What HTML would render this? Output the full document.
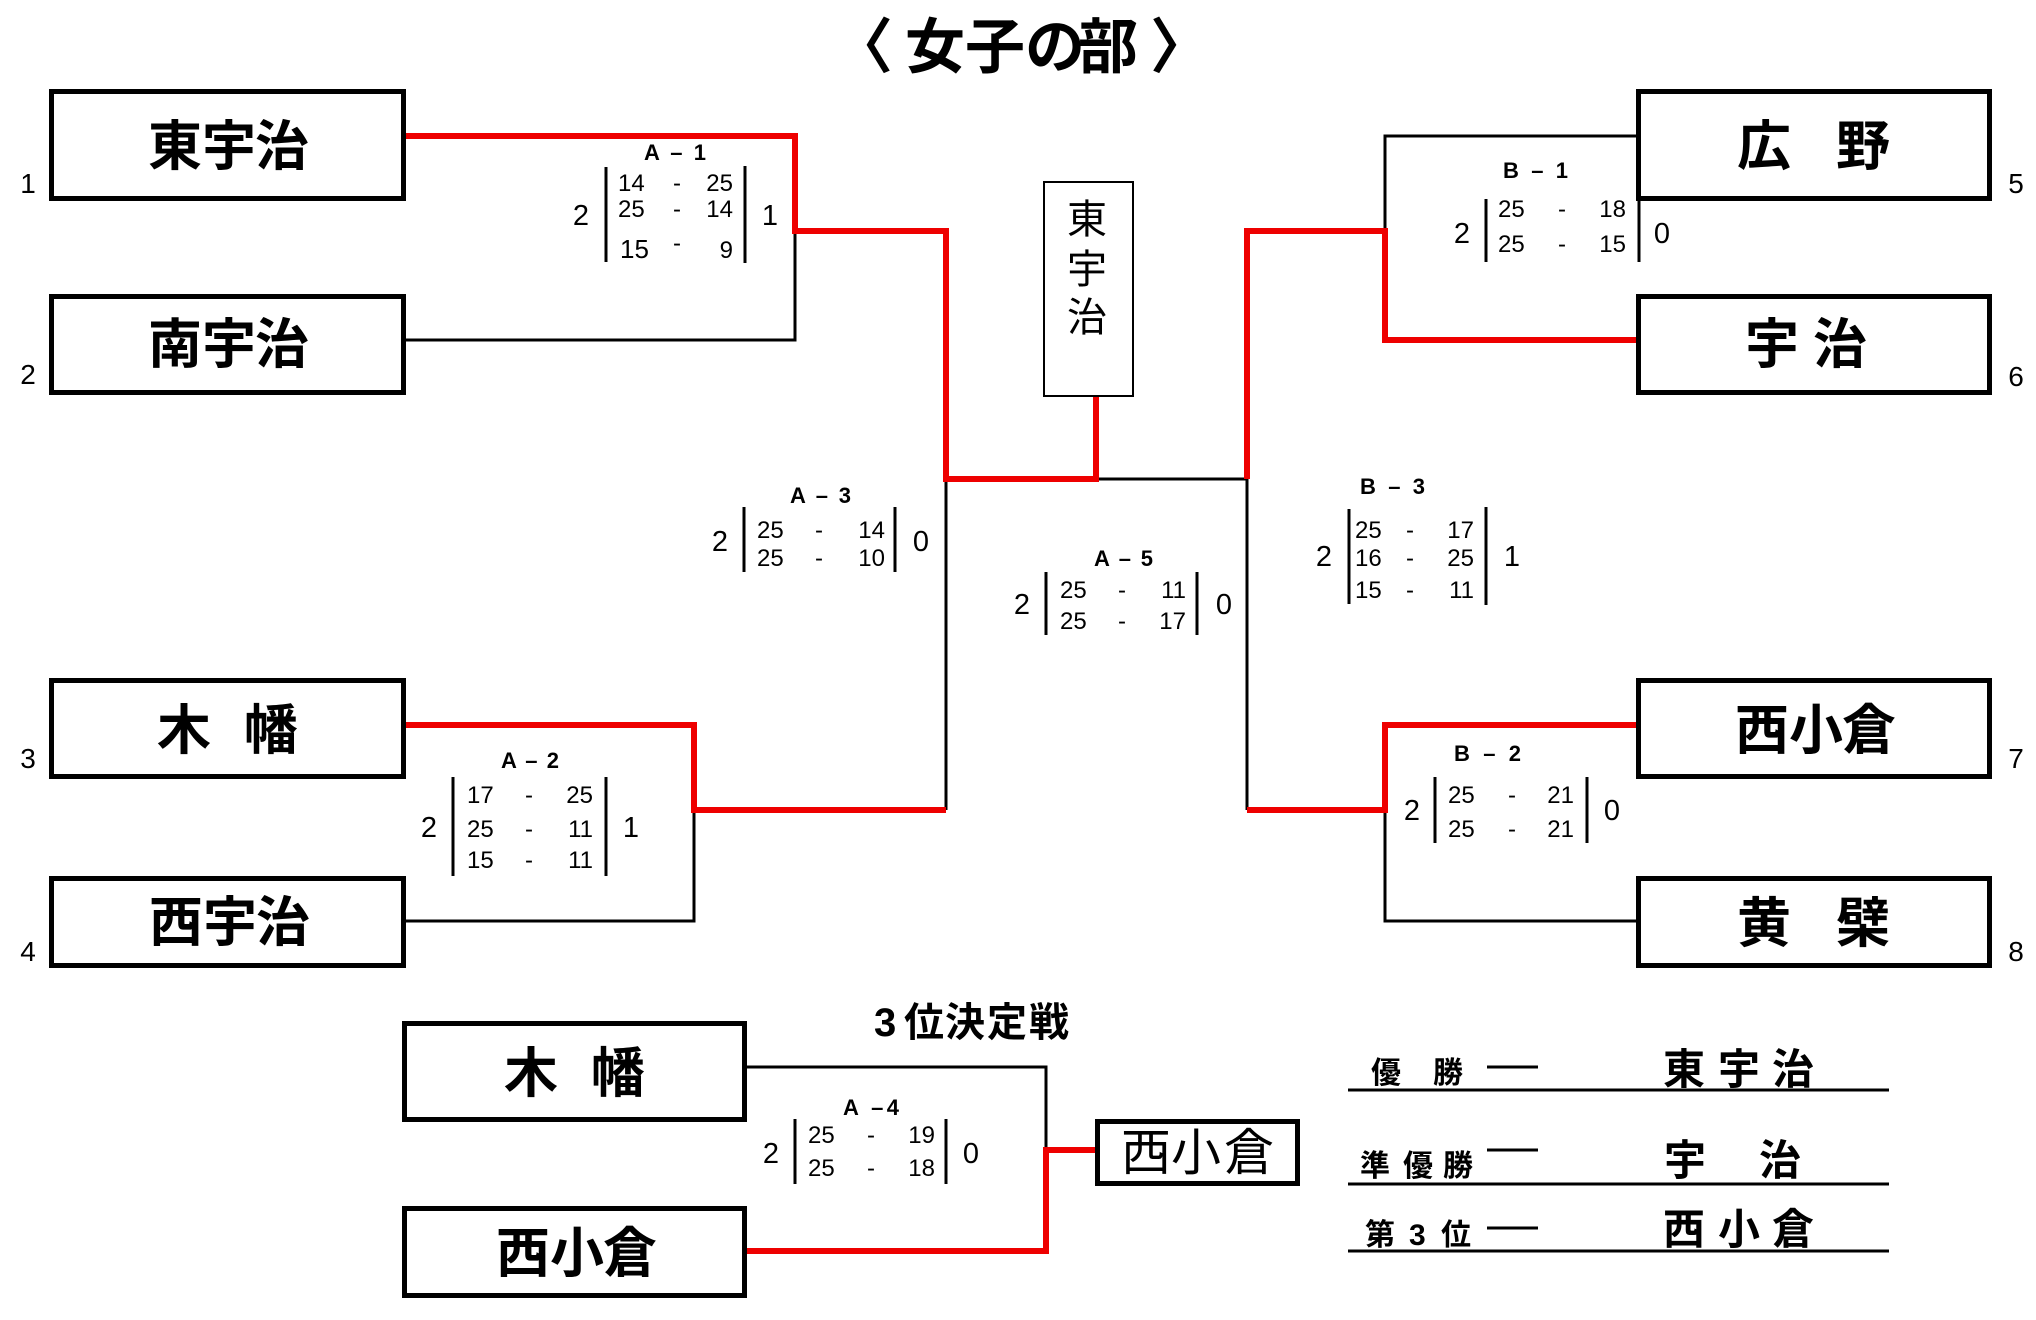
<!DOCTYPE html>
<html><head><meta charset="utf-8"><style>
html,body{margin:0;padding:0;background:#fff;}
svg{display:block;}
.j{font-family:"Liberation Sans","Noto Sans CJK JP",sans-serif;}
.tb{font-family:"Liberation Sans","Noto Sans CJK JP",sans-serif;font-weight:bold;font-size:54px;}
.n{font-family:"Liberation Sans",sans-serif;font-size:28px;text-anchor:middle;}
.s{font-family:"Liberation Sans",sans-serif;font-size:24px;}
.b{font-family:"Liberation Sans",sans-serif;font-size:29px;text-anchor:middle;}
.lb{font-family:"Liberation Sans",sans-serif;font-size:22px;font-weight:bold;}
</style></head><body>
<svg width="2036" height="1320" viewBox="0 0 2036 1320" xmlns="http://www.w3.org/2000/svg">
<rect width="2036" height="1320" fill="#fff"/>

<!-- Title -->
<g class="j" font-weight="bold" font-size="60">
<text x="833" y="68">〈</text>
<text x="905 965 1025 1078" y="68">女子の部</text>
<text x="1150" y="68">〉</text>
</g>

<!-- Black connectors -->
<g fill="none" stroke="#000" stroke-width="3">
<path d="M406,340 H795 V231"/>
<path d="M946,479 V810"/>
<path d="M406,921 H694 V810"/>
<path d="M1096,479 H1247"/>
<path d="M1385,231 V136 H1636"/>
<path d="M1247,479 V810"/>
<path d="M1385,810 V921 H1636"/>
<path d="M747,1067 H1046 V1150"/>
</g>
<!-- Red connectors -->
<g fill="none" stroke="#ee0000" stroke-width="6" stroke-linejoin="miter">
<path d="M406,136 H795 V231 H946 V479 H1096 V397"/>
<path d="M406,725 H694 V810 H946"/>
<path d="M1247,479 V231 H1385 V340 H1636"/>
<path d="M1247,810 H1385 V725 H1636"/>
<path d="M747,1251 H1046 V1150 H1096"/>
</g>

<!-- Team boxes -->
<g fill="#fff" stroke="#000" stroke-width="5">
<rect x="51.5" y="91.5" width="352" height="107"/>
<rect x="51.5" y="296.5" width="352" height="96"/>
<rect x="51.5" y="680.5" width="352" height="96"/>
<rect x="51.5" y="878.5" width="352" height="87"/>
<rect x="1638.5" y="91.5" width="351" height="107"/>
<rect x="1638.5" y="296.5" width="351" height="96"/>
<rect x="1638.5" y="680.5" width="351" height="96"/>
<rect x="1638.5" y="878.5" width="351" height="87"/>
<rect x="404.5" y="1023.5" width="340" height="96"/>
<rect x="404.5" y="1208.5" width="340" height="87"/>
<rect x="1097.5" y="1121.5" width="200" height="62"/>
</g>
<rect x="1044" y="182" width="89" height="214" fill="#fff" stroke="#000" stroke-width="2"/>

<!-- Team names -->
<g class="tb">
<text x="148 202 255" y="165">東宇治</text>
<text x="148 202 255" y="363">南宇治</text>
<text x="157" y="749">木</text><text x="244" y="749">幡</text>
<text x="149 203 256" y="941">西宇治</text>
<text x="1737" y="165">広</text><text x="1836" y="165">野</text>
<text x="1745" y="363">宇</text><text x="1813" y="363">治</text>
<text x="1735 1789 1842" y="749">西小倉</text>
<text x="1737" y="942">黄</text><text x="1836" y="942">檗</text>
<text x="504" y="1092">木</text><text x="591" y="1092">幡</text>
<text x="496 550 603" y="1272">西小倉</text>
</g>

<!-- Champion vertical -->
<g class="j" font-size="40" text-anchor="middle">
<text x="1087" y="233">東</text>
<text x="1087" y="283">宇</text>
<text x="1087" y="331">治</text>
</g>
<!-- 3rd place result -->
<text class="j" font-size="50" x="1121 1171 1224" y="1170">西小倉</text>

<!-- Seed numbers -->
<g class="n">
<text x="28" y="193">1</text>
<text x="28" y="384">2</text>
<text x="28" y="768">3</text>
<text x="28" y="961">4</text>
<text x="2016" y="193">5</text>
<text x="2016" y="386">6</text>
<text x="2016" y="768">7</text>
<text x="2016" y="961">8</text>
</g>

<!-- Score bars -->
<g stroke="#000" stroke-width="3">
<line x1="606" y1="167" x2="606" y2="262"/><line x1="745" y1="166" x2="745" y2="263"/>
<line x1="744" y1="507" x2="744" y2="572"/><line x1="895" y1="507" x2="895" y2="572"/>
<line x1="1046" y1="572" x2="1046" y2="635"/><line x1="1197" y1="572" x2="1197" y2="635"/>
<line x1="1486" y1="199" x2="1486" y2="262"/><line x1="1639" y1="199" x2="1639" y2="262"/>
<line x1="1349" y1="509" x2="1349" y2="604"/><line x1="1486" y1="507" x2="1486" y2="605"/>
<line x1="453" y1="777" x2="453" y2="876"/><line x1="606" y1="777" x2="606" y2="876"/>
<line x1="1435" y1="777" x2="1435" y2="843"/><line x1="1587" y1="777" x2="1587" y2="843"/>
<line x1="795" y1="1119" x2="795" y2="1184"/><line x1="946" y1="1119" x2="946" y2="1184"/>
</g>

<!-- Match labels -->
<g class="lb">
<text x="644" y="160" textLength="62" lengthAdjust="spacing">A – 1</text>
<text x="790" y="503" textLength="61" lengthAdjust="spacing">A – 3</text>
<text x="1094" y="566" textLength="59" lengthAdjust="spacing">A – 5</text>
<text x="1503" y="178" textLength="65" lengthAdjust="spacing">B – 1</text>
<text x="1360" y="494" textLength="65" lengthAdjust="spacing">B – 3</text>
<text x="501" y="768" textLength="58" lengthAdjust="spacing">A – 2</text>
<text x="1454" y="761" textLength="67" lengthAdjust="spacing">B – 2</text>
<text x="843" y="1115" textLength="56" lengthAdjust="spacing">A –4</text>
</g>

<!-- Big set counts -->
<g class="b">
<text x="581" y="225">2</text><text x="770" y="225">1</text>
<text x="720" y="551">2</text><text x="921" y="551">0</text>
<text x="1022" y="614">2</text><text x="1224" y="614">0</text>
<text x="1462" y="243">2</text><text x="1662" y="243">0</text>
<text x="1324" y="566">2</text><text x="1512" y="566">1</text>
<text x="429" y="837">2</text><text x="631" y="837">1</text>
<text x="1412" y="820">2</text><text x="1612" y="820">0</text>
<text x="771" y="1163">2</text><text x="971" y="1163">0</text>
</g>

<!-- Scores -->
<g class="s">
<!-- A-1 -->
<text x="618" y="191">14</text><text x="618" y="217">25</text><text x="620" y="258" font-size="26">15</text>
<text x="677" y="191" text-anchor="middle">-</text><text x="677" y="217" text-anchor="middle">-</text><text x="677" y="251" text-anchor="middle">-</text>
<text x="733" y="191" text-anchor="end">25</text><text x="733" y="217" text-anchor="end">14</text><text x="733" y="258" text-anchor="end">9</text>
<!-- A-3 -->
<text x="757" y="538">25</text><text x="757" y="566">25</text>
<text x="819" y="538" text-anchor="middle">-</text><text x="819" y="566" text-anchor="middle">-</text>
<text x="885" y="538" text-anchor="end">14</text><text x="885" y="566" text-anchor="end">10</text>
<!-- A-5 -->
<text x="1060" y="598">25</text><text x="1060" y="629">25</text>
<text x="1122" y="598" text-anchor="middle">-</text><text x="1122" y="629" text-anchor="middle">-</text>
<text x="1186" y="598" text-anchor="end">11</text><text x="1186" y="629" text-anchor="end">17</text>
<!-- B-1 -->
<text x="1498" y="217">25</text><text x="1498" y="252">25</text>
<text x="1562" y="217" text-anchor="middle">-</text><text x="1562" y="252" text-anchor="middle">-</text>
<text x="1626" y="217" text-anchor="end">18</text><text x="1626" y="252" text-anchor="end">15</text>
<!-- B-3 -->
<text x="1355" y="538">25</text><text x="1355" y="566">16</text><text x="1355" y="598">15</text>
<text x="1410" y="538" text-anchor="middle">-</text><text x="1410" y="566" text-anchor="middle">-</text><text x="1410" y="598" text-anchor="middle">-</text>
<text x="1474" y="538" text-anchor="end">17</text><text x="1474" y="566" text-anchor="end">25</text><text x="1474" y="598" text-anchor="end">11</text>
<!-- A-2 -->
<text x="467" y="803">17</text><text x="467" y="837">25</text><text x="467" y="868">15</text>
<text x="529" y="803" text-anchor="middle">-</text><text x="529" y="837" text-anchor="middle">-</text><text x="529" y="868" text-anchor="middle">-</text>
<text x="593" y="803" text-anchor="end">25</text><text x="593" y="837" text-anchor="end">11</text><text x="593" y="868" text-anchor="end">11</text>
<!-- B-2 -->
<text x="1448" y="803">25</text><text x="1448" y="837">25</text>
<text x="1512" y="803" text-anchor="middle">-</text><text x="1512" y="837" text-anchor="middle">-</text>
<text x="1574" y="803" text-anchor="end">21</text><text x="1574" y="837" text-anchor="end">21</text>
<!-- A-4 -->
<text x="808" y="1143">25</text><text x="808" y="1176">25</text>
<text x="871" y="1143" text-anchor="middle">-</text><text x="871" y="1176" text-anchor="middle">-</text>
<text x="935" y="1143" text-anchor="end">19</text><text x="935" y="1176" text-anchor="end">18</text>
</g>

<!-- 3位決定戦 -->
<g class="j" font-weight="bold">
<text x="874" y="1036" font-size="40">3</text>
<text x="904 945 987 1029" y="1036" font-size="40">位決定戦</text>
</g>

<!-- Legend -->
<g stroke="#000" stroke-width="3">
<line x1="1348" y1="1090" x2="1889" y2="1090"/>
<line x1="1348" y1="1184" x2="1889" y2="1184"/>
<line x1="1348" y1="1251" x2="1889" y2="1251"/>
<line x1="1487" y1="1067" x2="1538" y2="1067"/>
<line x1="1487" y1="1150" x2="1538" y2="1150"/>
<line x1="1487" y1="1228" x2="1538" y2="1228"/>
</g>
<g class="j" font-weight="bold" font-size="30">
<text x="1371" y="1083">優</text><text x="1433" y="1083">勝</text>
<text x="1360 1403 1443" y="1176">準優勝</text>
<text x="1365" y="1245">第</text><text x="1409" y="1245">3</text><text x="1441" y="1245">位</text>
</g>
<g class="j" font-weight="bold" font-size="42">
<text x="1663 1718 1772" y="1084">東宇治</text>
<text x="1664" y="1175">宇</text><text x="1759" y="1175">治</text>
<text x="1663 1718 1772" y="1244">西小倉</text>
</g>
</svg>
</body></html>
